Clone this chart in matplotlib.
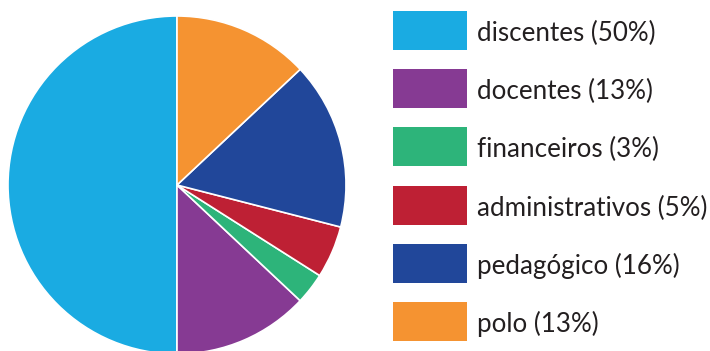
import matplotlib.pyplot as plt
from matplotlib.patches import Rectangle

categories = ['discentes', 'docentes', 'financeiros', 'administrativos', 'pedagógico', 'polo']
values = [50, 13, 3, 5, 16, 13]
colors = ['#1AABE2', '#863A93', '#2DB47A', '#BE2034', '#21479A', '#F59331']

W, H = 710, 351
fig = plt.figure(figsize=(W / 100, H / 100), dpi=100)

# pie: centre (177, 185) px from top-left, radius 169 px
cx, cy, r = 177, 185, 169
ax = fig.add_axes([(cx - r) / W, (H - cy - r) / H, 2 * r / W, 2 * r / H])
ax.pie(values, colors=colors, startangle=90, counterclock=True,
       wedgeprops=dict(edgecolor='white', linewidth=1.2))
ax.set_xlim(-1, 1)
ax.set_ylim(-1, 1)
ax.set_aspect('equal')
ax.axis('off')

# legend drawn in pixel coordinates
lax = fig.add_axes([0, 0, 1, 1], zorder=-1)
lax.set_xlim(0, W)
lax.set_ylim(H, 0)
lax.axis('off')
for i, (cat, val, col) in enumerate(zip(categories, values, colors)):
    y0 = 11 + 58.2 * i
    lax.add_patch(Rectangle((393, y0), 74, 39, facecolor=col, edgecolor='none'))
    lax.text(477, y0 + 30, f'{cat} ({val}%)', fontsize=18.7, family='Lato',
             color='#231F20', va='baseline', ha='left')

fig.savefig('out.png', dpi=100)
